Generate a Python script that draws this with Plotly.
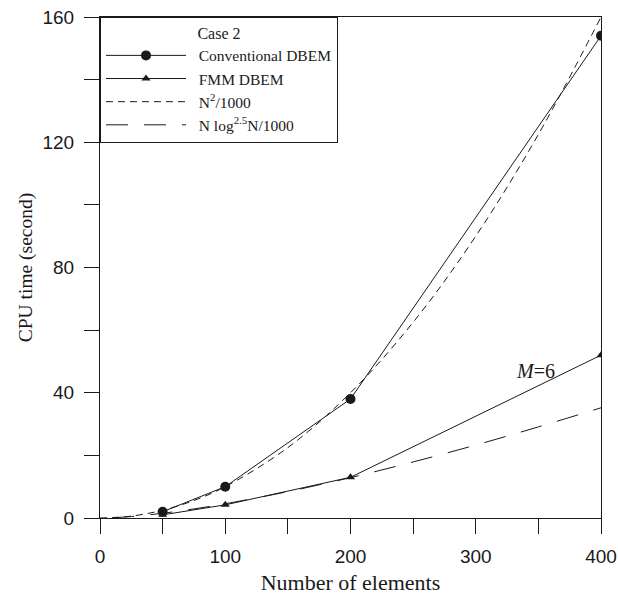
import plotly.graph_objects as go

# ---- data ----
n_elements = [50, 100, 200, 400]
conventional_dbem = [2, 10, 38, 154]
fmm_dbem = [1, 4.2, 13, 52]

n_curve = [0, 25, 50, 75, 100, 150, 200, 250, 300, 350, 400]
n2_curve = [0, 0.6, 2.5, 5.6, 10, 22.5, 40, 62.5, 90, 122.5, 160]

n_curve2 = [10, 25, 50, 75, 100, 150, 200, 250, 300, 350, 400]
nlog_curve = [0.08, 0.46, 1.51, 2.9, 4.55, 8.43, 12.9, 17.9, 23.3, 29.1, 35.2]

x_ticks = [0, 100, 200, 300, 400]
y_ticks = [0, 40, 80, 120, 160]

INK = "#1a1a1a"
SERIF = "Liberation Serif, Times New Roman, serif"
SANS = "Liberation Sans, Arial, sans-serif"
NB = "\u00a0\u00a0"

fig = go.Figure()
fig.add_trace(go.Scatter(x=n_elements, y=conventional_dbem, mode="lines+markers",
                         name=NB + "Conventional DBEM",
                         line=dict(color=INK, width=1),
                         marker=dict(symbol="circle", size=10, color=INK)))
fig.add_trace(go.Scatter(x=n_elements, y=fmm_dbem, mode="lines+markers",
                         name=NB + "FMM DBEM",
                         line=dict(color=INK, width=1),
                         marker=dict(symbol="triangle-up", size=8, color=INK)))
fig.add_trace(go.Scatter(x=n_curve, y=n2_curve, mode="lines",
                         name=NB + "N<sup>2</sup>/1000", line_shape="spline",
                         line=dict(color=INK, width=1, dash="7px,5px")))
fig.add_trace(go.Scatter(x=n_curve2, y=nlog_curve, mode="lines",
                         name=NB + "N log<sup>2.5</sup>N/1000", line_shape="spline",
                         line=dict(color=INK, width=1, dash="22px,16px")))

fig.add_annotation(x=348, y=47, xref="x", yref="y", text="<i>M</i>=6",
                   showarrow=False, font=dict(family=SERIF, size=20, color=INK))

axis_common = dict(showline=True, linecolor=INK, linewidth=1, mirror=True,
                   showgrid=False, zeroline=False, ticks="outside", ticklen=15,
                   tickcolor=INK, tickwidth=1, automargin=False,
                   ticklabelstandoff=6, ticklabeloverflow="allow",
                   tickfont=dict(family=SANS, size=19, color=INK))

fig.update_xaxes(range=[0, 400], tickvals=x_ticks, ticktext=[str(v) for v in x_ticks],
                 minor=dict(dtick=50, tick0=0, ticks="outside", ticklen=15,
                            tickcolor=INK, tickwidth=1),
                 title=dict(text="Number of elements",
                            font=dict(family=SERIF, size=22, color=INK), standoff=8),
                 **axis_common)
fig.update_yaxes(range=[0, 160], tickvals=y_ticks, ticktext=[str(v) for v in y_ticks],
                 minor=dict(dtick=20, tick0=0, ticks="outside", ticklen=15,
                            tickcolor=INK, tickwidth=1),
                 title=dict(text="CPU time (second)",
                            font=dict(family=SERIF, size=19.5, color=INK), standoff=4),
                 **axis_common)

fig.update_layout(
    width=618, height=595,
    margin=dict(l=100, r=17, t=17, b=77, autoexpand=False),
    paper_bgcolor="white", plot_bgcolor="white",
    showlegend=True,
    legend=dict(x=0, y=1, xanchor="left", yanchor="top",
                bgcolor="white", bordercolor=INK, borderwidth=1,
                font=dict(family=SERIF, size=15.5, color=INK),
                title=dict(text="Case 2", side="top center",
                           font=dict(family=SERIF, size=16, color=INK)),
                itemwidth=80),
)

fig.write_html("out.html")
